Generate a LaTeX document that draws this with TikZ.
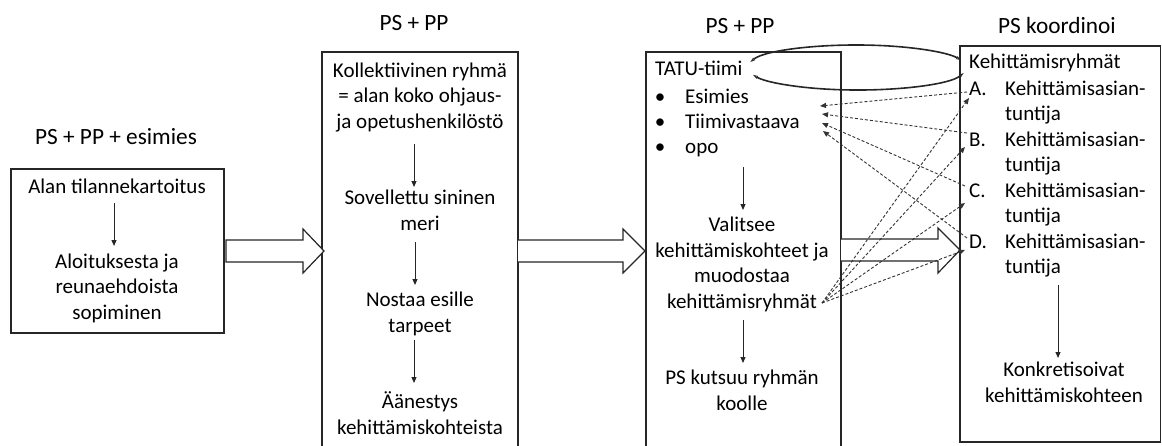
\documentclass[tikz,border=0pt]{standalone}
\usepackage{fontspec}
\setmainfont{Carlito}
\usetikzlibrary{arrows.meta}
\begin{document}
\begin{tikzpicture}[x=1pt,y=-1pt,
  txt/.style={inner sep=0pt, anchor=base, font=\fontsize{21}{25.5}\selectfont, align=center},
  ltxt/.style={txt, anchor=base west, align=left},
  ttl/.style={txt, font=\fontsize{23.3}{28}\selectfont},
  panel/.style={draw=black!85, line width=1.2pt},
  blockarrow/.style={draw=black!85, line width=1.2pt, fill=white, line join=miter},
  arr/.style={draw=black!85, line width=1pt, -{Triangle[length=6pt,width=5pt]}},
  dasharr/.style={draw=black!80, line width=0.9pt, dash pattern=on 3pt off 2pt, -{Triangle[length=6pt,width=5pt]}},
  loop/.style={draw=black!85, line width=1.6pt, {Triangle[open,length=5pt,width=3pt,line width=0.8pt]}-{Triangle[open,length=5pt,width=3pt,line width=0.8pt]}}
]
\useasboundingbox (0,0) rectangle (1162,445);

% panels
\draw[panel] (11,169) rectangle (224,333);
\draw[panel] (322,460) -- (322,52) -- (518,52) -- (518,460);
\draw[panel] (646,460) -- (646,52) -- (841,52) -- (841,460);
\draw[panel] (960,46) rectangle (1160.5,442);

% titles
\node[ttl] (t1) at (116,144) {PS + PP + esimies};
\node[ttl] (t2) at (414,30) {PS + PP};
\node[ttl] (t3) at (740,33) {PS + PP};
\node[ttl] (t4) at (1057,33) {PS koordinoi};

% box 1 (multi-line nodes: base = last line)
\node[txt] (a1) at (117,193) {Alan tilannekartoitus};
\node[txt] (a2) at (117,319) {Aloituksesta ja\\reunaehdoista\\sopiminen};
\coordinate (a1s) at (114,203); \coordinate (a2n) at (114,246);
\draw[arr] (a1s) -- (a2n);

% box 2
\node[txt] (k1) at (420,128) {Kollektiivinen ryhmä\\= alan koko ohjaus-\\ja opetushenkilöstö};
\node[txt] (k2) at (420,230) {Sovellettu sininen\\meri};
\node[txt] (k3) at (420,332) {Nostaa esille\\tarpeet};
\node[txt] (k4) at (420,434) {Äänestys\\kehittämiskohteista};
\coordinate (k1s) at (414,144); \coordinate (k2n) at (414,187);
\coordinate (k2s) at (415,242); \coordinate (k3n) at (415,285);
\coordinate (k3s) at (414,340); \coordinate (k4n) at (414,383);
\draw[arr] (k1s) -- (k2n);
\draw[arr] (k2s) -- (k3n);
\draw[arr] (k3s) -- (k4n);

% box 3
\node[ltxt] (tatu) at (655,75) {TATU-tiimi};
\node[txt] (b1) at (660,103) {•};
\node[txt] (b2) at (660,128) {•};
\node[txt] (b3) at (660,153) {•};
\node[ltxt] (esi) at (685,103) {Esimies};
\node[ltxt] (tii) at (685,128) {Tiimivastaava};
\node[ltxt] (opo) at (685,153) {opo};
\node[txt] (val) at (742,308) {Valitsee\\kehittämiskohteet ja\\muodostaa\\kehittämisryhmät};
\node[txt] (kut) at (742,410) {PS kutsuu ryhmän\\koolle};
\coordinate (opos) at (743,167); \coordinate (valn) at (743,210);
\coordinate (vals) at (743,320); \coordinate (kutn) at (743,363);
\draw[arr] (opos) -- (valn);
\draw[arr] (vals) -- (kutn);

% box 4
\node[ltxt] (kr) at (969,68) {Kehittämisryhmät};
\node[ltxt] (lA) at (969,95) {A.};
\node[ltxt] (lB) at (969,146) {B.};
\node[ltxt] (lC) at (969,197) {C.};
\node[ltxt] (lD) at (969,248) {D.};
\node[ltxt] (eA) at (1005,120.5) {Kehittämisasian-\\tuntija};
\node[ltxt] (eB) at (1005,171.5) {Kehittämisasian-\\tuntija};
\node[ltxt] (eC) at (1005,222.5) {Kehittämisasian-\\tuntija};
\node[ltxt] (eD) at (1005,273.5) {Kehittämisasian-\\tuntija};
\node[txt] (kon) at (1064,402) {Konkretisoivat\\kehittämiskohteen};
\coordinate (eDs) at (1058,285); \coordinate (konn) at (1058,358);
\draw[arr] (eDs) -- (konn);

% block arrows
\draw[blockarrow] (226,240) -- (303,240) -- (303,229) -- (324,251) -- (303,273) -- (303,262) -- (226,262) -- cycle;
\draw[blockarrow] (518,240) -- (623,240) -- (623,229) -- (645,251) -- (623,273) -- (623,262) -- (518,262);
\draw[blockarrow] (841,239) -- (938,239) -- (938,228) -- (960,250) -- (938,273) -- (938,261) -- (841,261);

% loop between TATU-tiimi and Kehittämisryhmät
\coordinate (E) at (857,67.5);
\draw[loop] ([shift={(-166:110 and 22.5)}]E) arc[start angle=-166, end angle=-19, x radius=110, y radius=22.5];
\draw[loop] ([shift={(14:110 and 22.5)}]E) arc[start angle=14, end angle=161, x radius=110, y radius=22.5];

% dashed arrows to team
\coordinate (pA) at (967,92);  \coordinate (qA) at (820,106);
\coordinate (pB) at (967,133); \coordinate (qB) at (822,114);
\coordinate (pC) at (965,186); \coordinate (qC) at (822,123);
\coordinate (pD) at (967,238); \coordinate (qD) at (823,131);
\draw[dasharr] (pA) -- (qA);
\draw[dasharr] (pB) -- (qB);
\draw[dasharr] (pC) -- (qC);
\draw[dasharr] (pD) -- (qD);

% dashed arrows from kehittämisryhmät
\coordinate (src) at (822,303);
\coordinate (rA) at (969,98);
\coordinate (rB) at (965,147);
\coordinate (rC) at (965,203);
\coordinate (rD) at (965,250);
\draw[dasharr] (src) -- (rA);
\draw[dasharr] (src) -- (rB);
\draw[dasharr] (src) -- (rC);
\draw[dasharr] (src) -- (rD);
\end{tikzpicture}
\end{document}
